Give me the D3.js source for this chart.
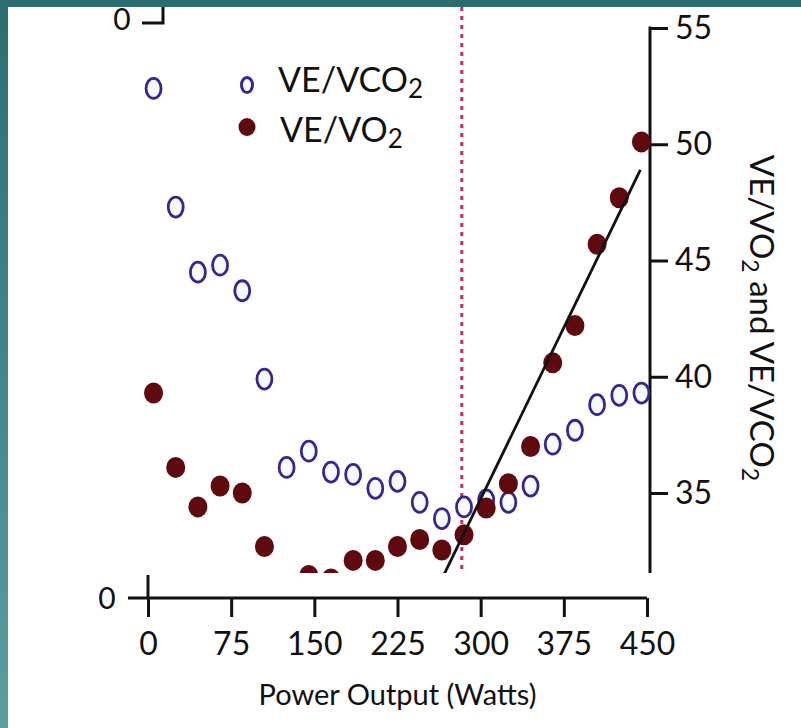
<!DOCTYPE html>
<html>
<head>
<meta charset="utf-8">
<script src="https://cdn.jsdelivr.net/npm/d3@7"></script>
<style>
  body { margin: 0; background: #fff; }
  svg { display: block; }
  text { font-family: Lato, "Open Sans", sans-serif; fill: #111; }
</style>
</head>
<body>
<div id="chart"></div>
<script>
// power stages (W)
const watts = [5, 25, 45, 65, 85, 105, 125, 145, 165, 185, 205, 225, 245, 265, 285, 305, 325, 345, 365, 385, 405, 425, 445];
const veVco2 = [52.4, 47.3, 44.5, 44.8, 43.7, 39.9, 36.1, 36.8, 35.9, 35.8, 35.2, 35.5, 34.6, 33.9, 34.4, 34.7, 34.6, 35.3, 37.1, 37.7, 38.8, 39.2, 39.3];
const veVo2 = [39.3, 36.1, 34.4, 35.3, 35.0, 32.7, 31.0, 31.45, 31.3, 32.1, 32.1, 32.7, 33.0, 32.55, 33.2, 34.35, 35.4, 37.0, 40.6, 42.2, 45.7, 47.7, 50.1];
const xTicks = [0, 75, 150, 225, 300, 375, 450];
const yTicks = [35, 40, 45, 50, 55];
const fitWatts = [266, 444];
const fitValues = [31.4, 48.9];
const thresholdWatts = 283;

const W = 801, H = 728;

const svg = d3.select("#chart").append("svg")
    .attr("width", W)
    .attr("height", H);

// slide frame
const defs = svg.append("defs");
const grad = defs.append("linearGradient")
    .attr("id", "side")
    .attr("x1", 0).attr("y1", 0).attr("x2", 0).attr("y2", 1);
grad.append("stop").attr("offset", "0%").attr("stop-color", "#2c6d72");
grad.append("stop").attr("offset", "100%").attr("stop-color", "#5a9ea2");

defs.append("clipPath").attr("id", "plotClip")
    .append("rect").attr("x", 0).attr("y", 0).attr("width", W).attr("height", 573);

svg.append("rect").attr("width", W).attr("height", H).attr("fill", "#fff");
svg.append("rect").attr("width", W).attr("height", 7).attr("fill", "#2b6c71");
svg.append("rect").attr("width", 8).attr("height", H).attr("fill", "url(#side)");

const x = d3.scaleLinear().domain([0, 450]).range([148, 647]);
const y = d3.scaleLinear().domain([35, 55]).range([493, 28]);

// x axis
const xAxis = svg.append("g")
    .attr("transform", "translate(0,598)")
    .call(d3.axisBottom(x).tickValues(xTicks).tickSize(19).tickPadding(15).tickSizeOuter(0));
xAxis.select(".domain").remove();
xAxis.selectAll("line").attr("stroke", "#111").attr("stroke-width", 3);
xAxis.selectAll("text").attr("font-size", "32px").attr("font-family", "Lato");
svg.append("line")
    .attr("x1", 128).attr("x2", x(450))
    .attr("y1", 598).attr("y2", 598)
    .attr("stroke", "#111").attr("stroke-width", 3);
// stub of the left axis
svg.append("line")
    .attr("x1", x(0)).attr("x2", x(0))
    .attr("y1", 575).attr("y2", 598)
    .attr("stroke", "#111").attr("stroke-width", 3);
svg.append("text").attr("x", 107).attr("y", 598).attr("dy", "0.35em")
    .attr("text-anchor", "middle").attr("font-size", "30px").text("0");
svg.append("path")
    .attr("d", "M142,23H163V7")
    .attr("fill", "none").attr("stroke", "#111").attr("stroke-width", 3);
svg.append("text").attr("x", 122).attr("y", 19).attr("dy", "0.35em")
    .attr("text-anchor", "middle").attr("font-size", "30px").text("0");

svg.append("text")
    .attr("x", (x(0) + x(450)) / 2).attr("y", 705)
    .attr("text-anchor", "middle").attr("font-size", "29px")
    .text("Power Output (Watts)");

// right axis
const yAxis = svg.append("g")
    .attr("transform", "translate(650,0)")
    .call(d3.axisRight(y).tickValues(yTicks).tickSize(18).tickPadding(7).tickSizeOuter(0));
yAxis.select(".domain").remove();
yAxis.selectAll("line").attr("stroke", "#111").attr("stroke-width", 3);
yAxis.selectAll("text").attr("font-size", "32px").attr("font-family", "Lato");
svg.append("line")
    .attr("x1", 650).attr("x2", 650)
    .attr("y1", y(55) - 1.5).attr("y2", 573)
    .attr("stroke", "#111").attr("stroke-width", 3);

const yTitle = svg.append("text")
    .attr("transform", "translate(750,318) rotate(90)")
    .attr("text-anchor", "middle")
    .attr("font-size", "33px");
yTitle.append("tspan").text("VE/VO");
yTitle.append("tspan").attr("font-size", "23px").attr("dy", 8).text("2");
yTitle.append("tspan").attr("dy", -8).text(" and VE/VCO");
yTitle.append("tspan").attr("font-size", "23px").attr("dy", 8).text("2");

// threshold
svg.append("line")
    .attr("x1", x(thresholdWatts)).attr("x2", x(thresholdWatts))
    .attr("y1", 7).attr("y2", 573)
    .attr("stroke", "#c0305e").attr("stroke-width", 3)
    .attr("stroke-dasharray", "4,5");

const plot = svg.append("g").attr("clip-path", "url(#plotClip)");

plot.selectAll("ellipse.vco2")
    .data(watts)
    .join("ellipse")
    .attr("class", "vco2")
    .attr("cx", d => x(d))
    .attr("cy", (d, i) => y(veVco2[i]))
    .attr("rx", 7.5).attr("ry", 10)
    .attr("fill", "#f4fbff")
    .attr("stroke", "#3a2590")
    .attr("stroke-width", 2.8);

plot.selectAll("ellipse.vo2")
    .data(watts)
    .join("ellipse")
    .attr("class", "vo2")
    .attr("cx", d => x(d))
    .attr("cy", (d, i) => y(veVo2[i]))
    .attr("rx", 9.5).attr("ry", 10.5)
    .attr("fill", "#5e0a0e");

plot.append("path")
    .datum(fitWatts.map((d, i) => [d, fitValues[i]]))
    .attr("d", d3.line().x(d => x(d[0])).y(d => y(d[1])))
    .attr("fill", "none")
    .attr("stroke", "#111")
    .attr("stroke-width", 2.8);

// legend
const legend = svg.append("g");
legend.append("ellipse")
    .attr("cx", 247).attr("cy", 85).attr("rx", 5.5).attr("ry", 7.5)
    .attr("fill", "#f4fbff").attr("stroke", "#3a2590").attr("stroke-width", 3);
legend.append("ellipse")
    .attr("cx", 247).attr("cy", 127).attr("rx", 8.5).attr("ry", 9)
    .attr("fill", "#5e0a0e");
const l1 = legend.append("text").attr("x", 278).attr("y", 92).attr("font-size", "34px");
l1.append("tspan").text("VE/VCO");
l1.append("tspan").attr("font-size", "26px").attr("dy", 6).text("2");
const l2 = legend.append("text").attr("x", 280).attr("y", 142).attr("font-size", "34px");
l2.append("tspan").text("VE/VO");
l2.append("tspan").attr("font-size", "26px").attr("dy", 6).text("2");
</script>
</body>
</html>
